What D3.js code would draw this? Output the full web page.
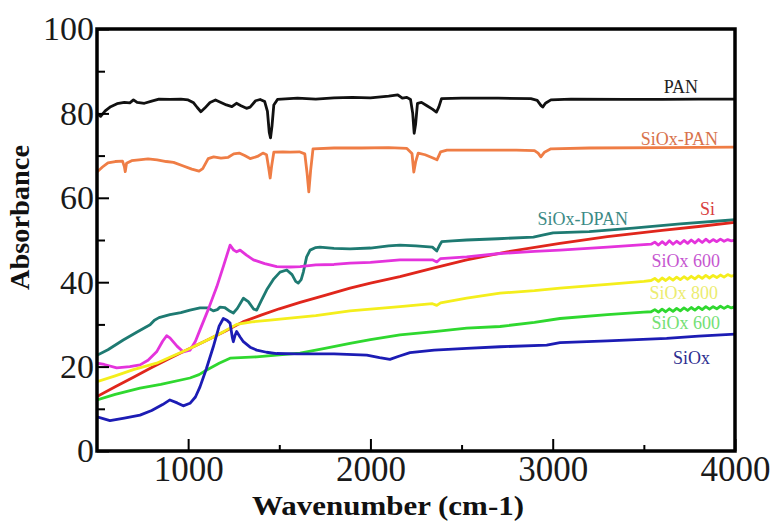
<!DOCTYPE html>
<html>
<head>
<meta charset="utf-8">
<script src="https://cdn.jsdelivr.net/npm/d3@7"></script>
<style>
  html, body { margin: 0; padding: 0; background: #fff; }
  svg { display: block; }
</style>
</head>
<body>
<svg id="chart" width="777" height="522"></svg>
<script>
// FTIR spectra: [wavenumber (cm-1), absorbance]
const pan = [[500,80.0],[520,79.3],[545,80.6],[575,81.6],[610,82.3],[650,82.6],[680,82.5],[700,83.2],[720,82.6],[760,82.4],[800,82.9],[840,83.4],[900,83.3],[960,83.4],[1000,83.2],[1030,82.5],[1050,81.4],[1070,80.4],[1090,81.2],[1120,82.6],[1150,83.2],[1180,82.6],[1210,82.0],[1240,81.6],[1265,82.4],[1290,81.8],[1320,81.2],[1340,81.5],[1370,83.0],[1395,83.3],[1420,82.8],[1435,80.5],[1445,75.5],[1452,74.2],[1460,77.0],[1470,82.0],[1490,83.3],[1600,83.6],[1700,83.4],[1800,83.7],[1900,83.8],[2000,83.7],[2100,84.1],[2150,84.4],[2175,83.6],[2200,83.8],[2220,83.3],[2232,80.0],[2240,75.3],[2248,77.5],[2258,82.4],[2280,82.6],[2310,81.8],[2340,81.0],[2362,80.3],[2375,81.5],[2390,83.5],[2500,83.6],[2700,83.6],[2880,83.5],[2915,83.1],[2935,81.9],[2945,81.5],[2960,82.4],[2990,83.2],[3100,83.4],[3400,83.3],[3600,83.3],[3800,83.4],[4000,83.4]];

const siOxPan = [[500,66.1],[530,67.3],[560,68.3],[600,68.6],[640,68.7],[650,67.4],[655,66.2],[662,68.2],[690,68.8],[730,69.0],[780,69.2],[830,69.0],[880,68.6],[920,68.4],[970,67.6],[1020,66.8],[1060,66.3],[1080,66.9],[1110,69.3],[1140,69.7],[1180,69.4],[1220,69.6],[1250,70.4],[1280,70.6],[1310,70.0],[1340,69.3],[1380,69.8],[1410,70.6],[1430,70.2],[1442,67.0],[1450,64.7],[1458,67.5],[1470,70.8],[1520,70.9],[1560,70.8],[1610,70.9],[1640,70.4],[1652,66.0],[1662,61.4],[1672,66.5],[1685,71.6],[1800,71.8],[1950,71.8],[2100,71.9],[2200,71.7],[2228,70.5],[2238,66.1],[2248,68.5],[2262,70.6],[2300,70.2],[2340,69.5],[2365,69.0],[2385,70.9],[2420,71.3],[2600,71.3],[2800,71.3],[2900,71.2],[2920,70.6],[2935,69.7],[2955,70.8],[2990,71.6],[3200,71.8],[3600,71.9],[4000,72.0]];

const siOxDpan = [[500,22.7],[560,24.0],[644,26.3],[720,28.2],[791,29.9],[815,31.0],[840,31.6],[900,32.3],[960,32.8],[1010,33.4],[1065,33.9],[1110,33.9],[1138,33.2],[1160,33.5],[1175,34.1],[1200,34.0],[1230,33.1],[1248,32.7],[1270,33.8],[1303,36.2],[1330,35.4],[1360,33.6],[1376,33.4],[1400,35.5],[1431,38.2],[1470,40.8],[1504,42.4],[1541,42.9],[1570,41.8],[1590,40.2],[1604,39.8],[1620,40.6],[1632,42.4],[1650,46.0],[1669,47.6],[1700,48.2],[1723,48.3],[1800,48.0],[1888,47.9],[2000,48.1],[2100,48.6],[2162,48.8],[2250,48.6],[2340,48.3],[2364,47.4],[2380,48.8],[2391,49.6],[2450,49.8],[2528,50.0],[2700,50.3],[2894,50.7],[2950,51.2],[3002,51.7],[3200,52.0],[3441,52.8],[3700,53.8],[4000,54.8]];

const si = [[500,12.9],[600,15.2],[700,17.5],[800,19.8],[900,22.0],[1000,24.1],[1100,26.2],[1200,28.3],[1300,30.6],[1400,32.2],[1500,33.7],[1614,35.2],[1750,36.9],[1888,38.6],[2000,39.8],[2162,41.3],[2350,43.4],[2528,45.3],[2750,47.2],[3040,49.2],[3300,50.8],[3600,52.3],[3800,53.2],[4000,54.2]];

const siOx600a = [[500,20.8],[540,20.5],[608,19.7],[680,20.0],[736,20.4],[780,21.5],[827,23.5],[860,26.0],[882,27.3],[900,26.8],[940,24.8],[973,23.5],[1010,23.9],[1040,26.0],[1065,28.7],[1110,33.5],[1157,38.9],[1195,44.0],[1230,48.8],[1250,47.6],[1266,47.2],[1285,47.6],[1320,46.4],[1358,45.3],[1420,44.4],[1486,43.7],[1560,43.6],[1614,43.7],[1700,44.1],[1800,44.2],[1888,44.5],[2000,44.7],[2162,45.3],[2340,45.3],[2364,44.8],[2385,45.6],[2528,46.0],[2711,46.8],[2900,47.3],[3040,47.6],[3300,48.3],[3500,48.9],[3540,49.0],[3560,49.5],[3580,48.8],[3600,49.6],[3620,48.9],[3640,49.8],[3660,49.0],[3680,49.7],[3700,49.1],[3720,49.9],[3740,49.2],[3760,50.0],[3780,49.3],[3800,50.1],[3820,49.4],[3840,50.2],[3860,49.5],[3880,50.1],[3900,49.6],[3920,50.2],[3940,49.7],[3960,50.1],[3980,49.8],[4000,50.0]];

const siOx800 = [[500,16.4],[600,17.8],[700,19.3],[827,20.8],[900,22.2],[1000,24.1],[1100,26.2],[1200,28.4],[1266,30.0],[1350,30.6],[1450,31.0],[1559,31.5],[1700,32.1],[1888,33.2],[2000,33.6],[2162,34.2],[2340,34.9],[2364,34.5],[2385,35.1],[2528,36.2],[2711,37.4],[2900,38.0],[3040,38.6],[3300,39.5],[3500,40.2],[3540,40.4],[3560,40.9],[3580,40.2],[3600,41.0],[3620,40.4],[3640,41.1],[3660,40.5],[3680,41.2],[3700,40.6],[3720,41.3],[3740,40.7],[3760,41.4],[3780,40.8],[3800,41.5],[3820,40.9],[3840,41.6],[3860,41.0],[3880,41.6],[3900,41.1],[3920,41.7],[3940,41.2],[3960,41.8],[3980,41.4],[4000,41.7]];

const siOx600b = [[500,12.1],[600,13.4],[736,14.9],[850,15.8],[1010,17.3],[1060,18.1],[1102,19.2],[1170,20.8],[1230,22.0],[1376,22.3],[1500,22.8],[1614,23.2],[1750,24.3],[1888,25.5],[2000,26.4],[2162,27.5],[2350,28.3],[2528,29.1],[2711,29.5],[2900,30.5],[3040,31.4],[3300,32.3],[3500,32.9],[3540,33.0],[3560,33.5],[3580,32.9],[3600,33.6],[3620,33.0],[3640,33.7],[3660,33.1],[3680,33.8],[3700,33.2],[3720,33.9],[3740,33.3],[3760,34.0],[3780,33.4],[3800,34.1],[3820,33.5],[3840,34.2],[3860,33.6],[3880,34.2],[3900,33.7],[3920,34.3],[3940,33.8],[3960,34.3],[3980,33.9],[4000,34.2]];

const siOx = [[500,8.1],[571,7.2],[650,7.8],[736,8.5],[800,9.6],[860,11.0],[900,12.1],[940,11.4],[973,10.7],[1010,11.3],[1040,12.8],[1065,15.2],[1100,19.5],[1138,24.7],[1170,29.6],[1193,31.4],[1215,30.9],[1230,30.3],[1242,27.0],[1248,25.9],[1258,27.5],[1266,28.3],[1285,27.0],[1303,25.9],[1340,24.6],[1376,23.9],[1430,23.4],[1486,23.1],[1600,23.0],[1800,23.0],[1980,22.7],[2050,22.1],[2107,21.7],[2160,22.5],[2217,23.3],[2350,23.9],[2528,24.3],[2711,24.7],[2967,25.1],[3040,25.7],[3300,26.1],[3625,26.7],[3800,27.2],[4000,27.7]];

const seriesNames = ["PAN", "SiOx-PAN", "SiOx-DPAN", "Si", "SiOx 600", "SiOx 800", "SiOx 600", "SiOx"];
const seriesData = [pan, siOxPan, siOxDpan, si, siOx600a, siOx800, siOx600b, siOx];

const xMajorTicks = [1000, 2000, 3000, 4000];
const xMinorTicks = [1500, 2500, 3500];
const yMajorTicks = [0, 20, 40, 60, 80, 100];
const yMinorTicks = [10, 30, 50, 70, 90];

// Styling and placement
const lineColors = ["#111111", "#ef7d45", "#1e7a72", "#e0261c", "#e433dc", "#f4ee1c", "#2fd82f", "#1c1cb4"];
const textColors = ["#222222", "#d8734c", "#3c8a85", "#d94040", "#c656d0", "#ecec70", "#74e074", "#2e2e90"];
// Label anchors (end of text) in data units
const labelAt = [[3797, 84.8], [3907, 72.5], [3413, 53.6], [3890, 55.9], [3918, 43.6], [3907, 36.0], [3918, 28.9], [3863, 20.6]];

(function draw() {
  const svg = d3.select("#chart");
  const plot = { left: 97, right: 735, top: 29, bottom: 451 };
  const fontFamily = '"Liberation Serif", "Times New Roman", serif';

  const x = d3.scaleLinear().domain([500, 4000]).range([plot.left, plot.right]);
  const y = d3.scaleLinear().domain([0, 100]).range([plot.bottom, plot.top]);

  svg.append("defs").append("clipPath").attr("id", "plotClip")
    .append("rect").attr("x", plot.left).attr("y", plot.top - 2)
    .attr("width", plot.right - plot.left).attr("height", plot.bottom - plot.top + 2);

  const line = d3.line().x(d => x(d[0])).y(d => y(d[1]));

  const lines = svg.append("g").attr("clip-path", "url(#plotClip)");
  seriesData.forEach((data, i) => {
    lines.append("path")
      .datum(data)
      .attr("d", line)
      .attr("fill", "none")
      .attr("stroke", lineColors[i])
      .attr("stroke-width", 2.8)
      .attr("stroke-linejoin", "round")
      .attr("stroke-linecap", "round");
  });

  // Axes with inward ticks
  const xAxis = svg.append("g").attr("transform", `translate(0,${plot.bottom})`)
    .call(d3.axisBottom(x).tickValues(xMajorTicks).tickSizeInner(-12).tickSizeOuter(0).tickPadding(5).tickFormat(d3.format("d")));
  svg.append("g").attr("transform", `translate(0,${plot.bottom})`)
    .call(d3.axisBottom(x).tickValues(xMinorTicks).tickSizeInner(-6).tickSizeOuter(0).tickFormat(""));

  const yAxis = svg.append("g").attr("transform", `translate(${plot.left},0)`)
    .call(d3.axisLeft(y).tickValues(yMajorTicks).tickSizeInner(-12).tickSizeOuter(0).tickPadding(3).tickFormat(d3.format("d")));
  svg.append("g").attr("transform", `translate(${plot.left},0)`)
    .call(d3.axisLeft(y).tickValues(yMinorTicks).tickSizeInner(-8).tickSizeOuter(0).tickFormat(""));

  svg.selectAll(".domain").remove();
  svg.selectAll(".tick line").attr("stroke", "#000").attr("stroke-width", 2);
  xAxis.selectAll("text").attr("font-size", 35).attr("fill", "#1a1a1a").attr("font-family", fontFamily);
  yAxis.selectAll("text").attr("font-size", 34).attr("fill", "#1a1a1a").attr("font-family", fontFamily);

  // Frame
  svg.append("rect")
    .attr("x", plot.left).attr("y", plot.top)
    .attr("width", plot.right - plot.left).attr("height", plot.bottom - plot.top)
    .attr("fill", "none").attr("stroke", "#000").attr("stroke-width", 3.5);

  // Series labels
  seriesNames.forEach((name, i) => {
    svg.append("text")
      .attr("x", x(labelAt[i][0]))
      .attr("y", y(labelAt[i][1]))
      .attr("text-anchor", "end")
      .attr("font-family", fontFamily)
      .attr("font-size", 18)
      .attr("fill", textColors[i])
      .text(name);
  });

  // Axis titles
  svg.append("text")
    .attr("x", 252).attr("y", 515)
    .attr("textLength", 272)
    .attr("lengthAdjust", "spacingAndGlyphs")
    .attr("font-family", fontFamily)
    .attr("font-weight", "bold")
    .attr("font-size", 28)
    .attr("fill", "#111")
    .text("Wavenumber (cm-1)");

  svg.append("text")
    .attr("transform", "translate(29,290) rotate(-90)")
    .attr("textLength", 145)
    .attr("lengthAdjust", "spacingAndGlyphs")
    .attr("font-family", fontFamily)
    .attr("font-weight", "bold")
    .attr("font-size", 27)
    .attr("fill", "#111")
    .text("Absorbance");
})();
</script>
</body>
</html>
